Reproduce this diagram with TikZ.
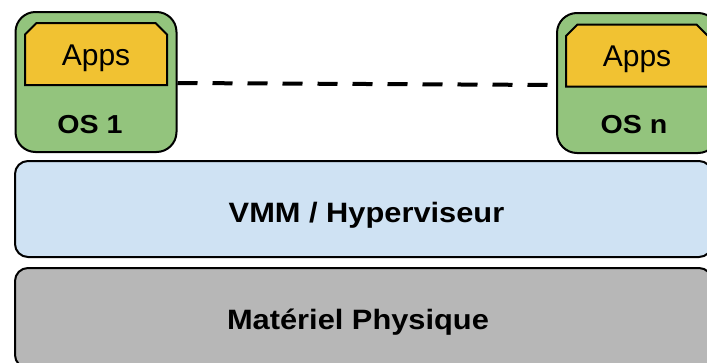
\documentclass[tikz,border=0pt]{standalone}
\usepackage{fontspec}
\setmainfont{Liberation Sans}
\newfontfamily\widebold[FakeStretch=1.1]{Liberation Sans Bold}
\usetikzlibrary{shapes.misc}
\definecolor{osgreen}{HTML}{93C47D}
\definecolor{appyellow}{HTML}{F1C232}
\definecolor{vmmblue}{HTML}{CFE2F3}
\definecolor{hwgray}{HTML}{B7B7B7}
\tikzset{
  osbox/.style={draw=black, line width=2pt, fill=osgreen, rounded corners=20pt,
    minimum width=161pt, minimum height=140pt, inner sep=0pt},
  appbox/.style={draw=black, line width=2pt, fill=appyellow, chamfered rectangle,
    chamfered rectangle corners={north west,north east}, chamfered rectangle xsep=8pt,
    minimum width=142pt, minimum height=62pt, inner sep=0pt,
    text height=22pt, text depth=0pt, font=\fontsize{30}{36}\selectfont},
  oslabel/.style={font=\fontsize{26}{31}\widebold, inner sep=0pt, anchor=base},
  layer/.style={draw=black, line width=2pt, rounded corners=13pt,
    minimum width=697pt, minimum height=96pt, inner sep=0pt},
  layertext/.style={font=\fontsize{28}{34}\widebold, inner sep=0pt, anchor=base},
  dashline/.style={line width=4pt, dash pattern=on 20pt off 15pt}
}
\begin{document}
\begin{tikzpicture}[x=1pt,y=-1pt]
\useasboundingbox (0,0) rectangle (707,362);
\clip (0,0) rectangle (707,362);
\fill[white] (0,0) rectangle (707,362);
% OS 1
\node[osbox] (os1) at (96,82) {};
\node[appbox] (apps1) at (96,54) {Apps};
\node[oslabel] (os1lbl) at (90,133) {OS 1};
% OS n
\node[osbox] (osn) at (637.5,83) {};
\node[appbox] (appsn) at (637,55.5) {Apps};
\node[oslabel] (osnlbl) at (634,133) {OS n};
% dashed connector
\draw[dashline] ([yshift=-1pt]os1.east) -- ([yshift=-2pt]osn.west);
% layers
\node[layer, fill=vmmblue] (vmm) at (363.5,209) {};
\node[layertext] (vmmlbl) at (366.5,222) {VMM / Hyperviseur};
\node[layer, fill=hwgray, minimum height=100pt] (hw) at (363.5,318) {};
\node[layertext] (hwlbl) at (358,329) {Matériel Physique};
\end{tikzpicture}
\end{document}
